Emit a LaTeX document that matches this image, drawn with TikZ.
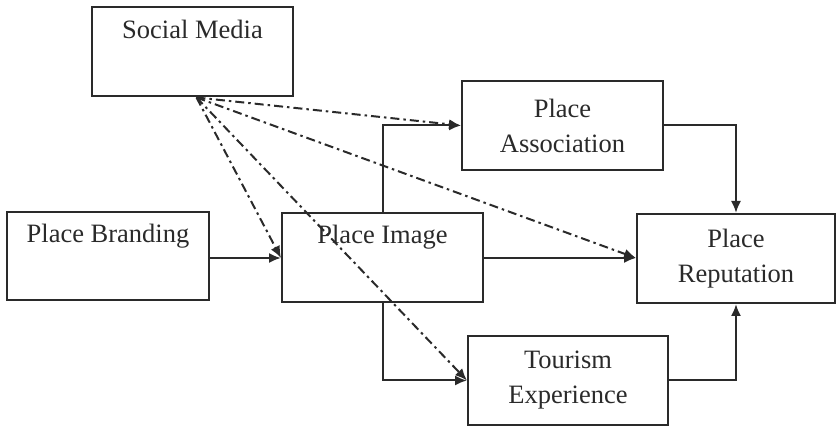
\documentclass[tikz,border=0pt]{standalone}
\usepackage{fontspec}
\setmainfont{Liberation Serif}
\usetikzlibrary{arrows.meta}
\definecolor{ink}{HTML}{2A2A2A}
\tikzset{
  box/.style={draw=ink, line width=2pt, rectangle, align=center, inner sep=0pt,
    font=\fontsize{26.5}{35}\selectfont, text=ink},
  arr/.style={draw=ink, line width=2pt, -{Latex[length=12pt,width=10pt]}},
  dd/.style={arr, dash pattern=on 9pt off 4pt on 2.5pt off 4pt}
}
\begin{document}
\begin{tikzpicture}[x=1pt,y=-1pt]
\useasboundingbox (0,0) rectangle (836,427);
\node[box, minimum width=201pt, minimum height=89pt] (SM) at (192.5,52) {Social Media\\\strut};
\node[box, minimum width=202pt, minimum height=88pt] (PB) at (108,256) {Place Branding\\\strut};
\node[box, minimum width=201pt, minimum height=89pt] (PI) at (382.5,257.5) {Place Image\\\strut};
\node[box, minimum width=201pt, minimum height=89pt] (PA) at (562.5,125.5) {Place\\Association};
\node[box, minimum width=198pt, minimum height=89pt] (PR) at (736,258.5) {Place\\Reputation};
\node[box, minimum width=200pt, minimum height=89pt] (TE) at (568,380.5) {Tourism\\Experience};
\coordinate (src) at ([xshift=4pt]SM.south);
% solid connectors
\draw[arr] (PB.east |- 0,258) -- (PI.west |- 0,258);
\draw[arr] (PI.east |- 0,258) -- (PR.west |- 0,258);
\draw[arr] (PI.north) |- (PA.west);
\draw[arr] (PI.south) |- (TE.west);
\draw[arr] (PA.east) -| (PR.north);
\draw[arr] (TE.east) -| (PR.south);
% dash-dot connectors
\draw[dd] (src) -- (PA.west);
\draw[dd] (src) -- (PR.west |- 0,258);
\draw[dd] (src) -- (PI.west |- 0,258);
\draw[dd] (src) -- (TE.west);
\end{tikzpicture}
\end{document}
